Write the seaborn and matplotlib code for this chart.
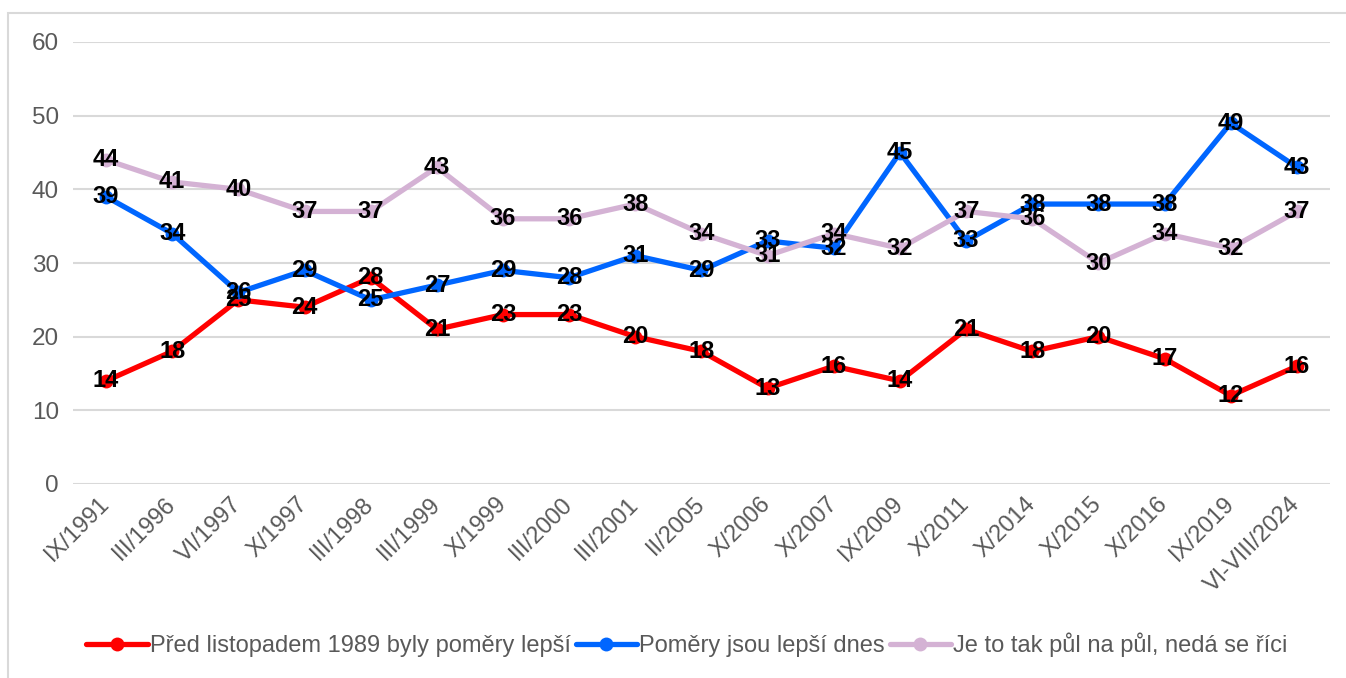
import matplotlib
matplotlib.use("Agg")
import matplotlib.pyplot as plt
import seaborn as sns
import pandas as pd
from matplotlib.patches import Rectangle

categories = ["IX/1991", "III/1996", "VI/1997", "X/1997", "III/1998", "III/1999",
              "X/1999", "III/2000", "III/2001", "II/2005", "X/2006", "X/2007",
              "IX/2009", "X/2011", "X/2014", "X/2015", "X/2016", "IX/2019",
              "VI-VIII/2024"]
series_names = ["Před listopadem 1989 byly poměry lepší",
                "Poměry jsou lepší dnes",
                "Je to tak půl na půl, nedá se říci"]
red_vals = [14, 18, 25, 24, 28, 21, 23, 23, 20, 18, 13, 16, 14, 21, 18, 20, 17, 12, 16]
blue_vals = [39, 34, 26, 29, 25, 27, 29, 28, 31, 29, 33, 32, 45, 33, 38, 38, 38, 49, 43]
lilac_vals = [44, 41, 40, 37, 37, 43, 36, 36, 38, 34, 31, 34, 32, 37, 36, 30, 34, 32, 37]
colors = ["#FF0000", "#0066FF", "#D4B2D4"]
y_ticks = [0, 10, 20, 30, 40, 50, 60]

sns.set_theme(style="white")
plt.rcParams['font.family'] = ['Liberation Sans', 'DejaVu Sans']

rows = []
for name, vals in zip(series_names, [red_vals, blue_vals, lilac_vals]):
    for i, v in enumerate(vals):
        rows.append({"pos": i, "value": v, "series": name})
df = pd.DataFrame(rows)

W, H = 1346, 678
fig = plt.figure(figsize=(W / 100, H / 100), dpi=100)
ax = fig.add_axes([73 / W, 1 - 484 / H, (1330 - 73) / W, (484 - 42) / H])

# outer border
fig.patches.append(Rectangle((8 / W, -0.05), 1.2, 1 - 13 / H + 0.05, transform=fig.transFigure,
                             fill=False, edgecolor="#D9D9D9", linewidth=1.5))

sns.lineplot(data=df, x="pos", y="value", hue="series", hue_order=series_names,
             palette=colors, linewidth=3.8, marker="o", markersize=10,
             markeredgewidth=0, ax=ax, legend=True, zorder=3)

for vals in [red_vals, blue_vals, lilac_vals]:
    for i, v in enumerate(vals):
        ax.text(i, v, str(v), ha="center", va="center", fontsize=17,
                fontweight="bold", color="black", zorder=5)

ax.set_xlim(-0.5, len(categories) - 0.5)
ax.set_ylim(0, 60)
ax.set_yticks(y_ticks)
ax.set_yticklabels([str(t) for t in y_ticks], fontsize=17.5, color="#595959")
ax.set_xticks(range(len(categories)))
ax.set_xticklabels(categories, rotation=45, ha="right", va="center",
                   rotation_mode="anchor", fontsize=17, color="#595959")
ax.tick_params(axis="x", pad=12, length=0)
ax.tick_params(axis="y", pad=10, length=0)
ax.grid(axis="y", color="#D9D9D9", linewidth=1.5)
ax.set_axisbelow(True)
for s in ax.spines.values():
    s.set_visible(False)
ax.set_xlabel("")
ax.set_ylabel("")

handles, labels = ax.get_legend_handles_labels()
ax.legend_.remove()
fig.legend(handles, labels, loc="center", bbox_to_anchor=(687 / W, 1 - 645 / H), ncol=3,
           frameon=False, fontsize=17, handlelength=2.6, handletextpad=0.1,
           columnspacing=0.2, labelcolor="#595959")

fig.savefig("out.png", dpi=100)
